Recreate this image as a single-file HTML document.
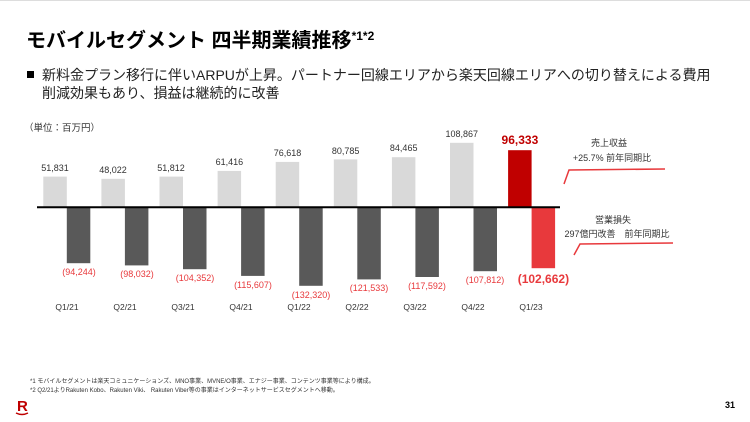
<!DOCTYPE html>
<html><head><meta charset="utf-8"><style>
body{margin:0;background:#fff;}
svg{display:block;font-family:"Liberation Sans","Noto Sans CJK JP",sans-serif;}
</style></head><body>
<svg width="750" height="422" viewBox="0 0 750 422" xmlns="http://www.w3.org/2000/svg">
<rect x="0" y="0" width="750" height="422" fill="#fff"/>
<line x1="0" y1="0.5" x2="750" y2="0.5" stroke="#ddd"/>
<text x="26" y="47" font-size="20" font-weight="bold" fill="#000">モバイルセグメント 四半期業績推移<tspan font-size="12" dy="-7">*1*2</tspan></text>
<rect x="27" y="71" width="7" height="7" fill="#000"/>
<text x="42" y="80" font-size="14" fill="#222">新料金プラン移行に伴いARPUが上昇。パートナー回線エリアから楽天回線エリアへの切り替えによる費用</text>
<text x="42" y="98" font-size="14" fill="#222">削減効果もあり、損益は継続的に改善</text>
<text x="24" y="131" font-size="9.5" fill="#333">（単位：百万円）</text>
<g font-size="9" text-anchor="middle">
<rect x="43.3" y="176.6" width="23.5" height="30.7" fill="#d9d9d9"/>
<rect x="101.4" y="178.8" width="23.5" height="28.5" fill="#d9d9d9"/>
<rect x="159.5" y="176.6" width="23.5" height="30.7" fill="#d9d9d9"/>
<rect x="217.6" y="170.9" width="23.5" height="36.4" fill="#d9d9d9"/>
<rect x="275.7" y="161.9" width="23.5" height="45.4" fill="#d9d9d9"/>
<rect x="333.8" y="159.4" width="23.5" height="47.9" fill="#d9d9d9"/>
<rect x="391.9" y="157.2" width="23.5" height="50.1" fill="#d9d9d9"/>
<rect x="450.0" y="142.8" width="23.5" height="64.5" fill="#d9d9d9"/>
<rect x="508.1" y="150.2" width="23.5" height="57.1" fill="#c00000"/>
<rect x="66.8" y="207.3" width="23.5" height="55.9" fill="#595959"/>
<rect x="124.9" y="207.3" width="23.5" height="58.1" fill="#595959"/>
<rect x="183.0" y="207.3" width="23.5" height="61.9" fill="#595959"/>
<rect x="241.1" y="207.3" width="23.5" height="68.6" fill="#595959"/>
<rect x="299.2" y="207.3" width="23.5" height="78.5" fill="#595959"/>
<rect x="357.3" y="207.3" width="23.5" height="72.1" fill="#595959"/>
<rect x="415.4" y="207.3" width="23.5" height="69.7" fill="#595959"/>
<rect x="473.5" y="207.3" width="23.5" height="63.9" fill="#595959"/>
<rect x="531.6" y="207.3" width="23.5" height="60.9" fill="#e8393c"/>
<line x1="37" y1="207.3" x2="560" y2="207.3" stroke="#000" stroke-width="2"/>
<g fill="#333">
<text x="55" y="171">51,831</text>
<text x="113" y="173">48,022</text>
<text x="171" y="171">51,812</text>
<text x="229.4" y="165">61,416</text>
<text x="287.5" y="156">76,618</text>
<text x="345.6" y="154">80,785</text>
<text x="403.7" y="151">84,465</text>
<text x="461.8" y="137">108,867</text>
</g>
<text x="519.9" y="144" font-size="12" font-weight="bold" fill="#c00000">96,333</text>
<g fill="#e8393c">
<text x="79" y="275">(94,244)</text>
<text x="137" y="277">(98,032)</text>
<text x="195" y="281">(104,352)</text>
<text x="253" y="288">(115,607)</text>
<text x="311" y="298">(132,320)</text>
<text x="369" y="291">(121,533)</text>
<text x="427" y="289">(117,592)</text>
<text x="485" y="283">(107,812)</text>
</g>
<text x="543.4" y="283" font-size="12" font-weight="bold" fill="#e8393c">(102,662)</text>
<g fill="#333" font-size="8.5">
<text x="67" y="310">Q1/21</text>
<text x="125" y="310">Q2/21</text>
<text x="183" y="310">Q3/21</text>
<text x="241" y="310">Q4/21</text>
<text x="299" y="310">Q1/22</text>
<text x="357" y="310">Q2/22</text>
<text x="415" y="310">Q3/22</text>
<text x="473" y="310">Q4/22</text>
<text x="531" y="310">Q1/23</text>
</g>
<g fill="#333" font-size="9">
<text x="609" y="146">売上収益</text>
<text x="612" y="161">+25.7% 前年同期比</text>
<text x="613" y="223">営業損失</text>
<text x="617" y="237">297億円改善　前年同期比</text>
</g>
</g>
<polyline points="564,184 569,170 665,169" fill="none" stroke="#e8393c" stroke-width="1.5"/>
<polyline points="574,255 580,244 673,243" fill="none" stroke="#e8393c" stroke-width="1.5"/>
<text x="30" y="383" font-size="6" fill="#333">*1 モバイルセグメントは楽天コミュニケーションズ、MNO事業、MVNE/O事業、エナジー事業、コンテンツ事業等により構成。</text>
<text x="30" y="392" font-size="6" fill="#333">*2 Q2/21よりRakuten Kobo、Rakuten Viki、 Rakuten Viber等の事業はインターネットサービスセグメントへ移動。</text>
<text x="17" y="411" font-size="15" font-weight="bold" fill="#bf0000">R</text>
<path d="M16 413 Q22 416 28 413" stroke="#bf0000" stroke-width="1.5" fill="none"/>
<text x="735" y="408" font-size="9" font-weight="bold" fill="#000" text-anchor="end">31</text>
</svg>
</body></html>
